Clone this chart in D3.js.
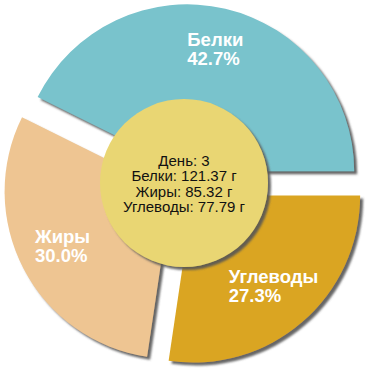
<!DOCTYPE html>
<html>
<head>
<meta charset="utf-8">
<script src="https://cdn.jsdelivr.net/npm/d3@7"></script>
<style>
  body { margin: 0; background: #fff; }
  svg { display: block; }
</style>
</head>
<body>
<div id="chart"></div>
<script>
// nutrient data, day 3
const names = ["Белки", "Углеводы", "Жиры"];
const grams = [121.37, 77.79, 85.32];
const colors = ["#79c3cc", "#daa520", "#eec592"];
const day = 3;
const centerLines = ["День: " + day, "Белки: 121.37 г", "Жиры: 85.32 г", "Углеводы: 77.79 г"];

const width = 370, height = 370;
const cx = 184, cy = 185;
const outerR = 167, innerR = 84;
const explode = 14;

const total = d3.sum(grams);
const fmt = d3.format(".1f");

const svg = d3.select("#chart").append("svg")
    .attr("width", width)
    .attr("height", height);

const defs = svg.append("defs");
const shadow = defs.append("filter")
    .attr("id", "shadow")
    .attr("x", "-10%").attr("y", "-10%")
    .attr("width", "130%").attr("height", "130%");
shadow.append("feDropShadow")
    .attr("dx", 3).attr("dy", 3)
    .attr("stdDeviation", 0.8)
    .attr("flood-color", "#555")
    .attr("flood-opacity", 0.9);

// protein slice ends at 3 o'clock
const startAngle = Math.PI / 2 - 2 * Math.PI * grams[0] / total;
const pie = d3.pie()
    .sort(null)
    .value(d => d)
    .startAngle(startAngle)
    .endAngle(startAngle + 2 * Math.PI);

const arcs = pie(grams);
const arc = d3.arc().innerRadius(0).outerRadius(outerR);

const g = svg.append("g").attr("transform", `translate(${cx},${cy})`);

function shift(d, r) {
    const a = (d.startAngle + d.endAngle) / 2;
    return [Math.sin(a) * r, -Math.cos(a) * r];
}

const slices = g.selectAll(".slice")
    .data(arcs)
    .enter().append("g")
    .attr("class", "slice")
    .attr("transform", d => `translate(${shift(d, explode)})`);

slices.append("path")
    .attr("d", arc)
    .attr("fill", (d, i) => colors[i])
    .attr("filter", "url(#shadow)");

// labels, left aligned block centred on a point along the bisector
const labelR = 123;
slices.each(function(d, i) {
    const [lx, ly] = shift(d, labelR);
    const lines = [names[i], fmt(grams[i] / total * 100) + "%"];
    const ts = d3.select(this).selectAll(".lbl")
        .data(lines)
        .enter().append("text")
        .attr("class", "lbl")
        .attr("fill", "#fff")
        .style("font-family", "'Liberation Sans', Arial, sans-serif")
        .style("font-weight", "bold")
        .style("font-size", "18.5px")
        .attr("y", (s, k) => ly + 4 + (k - 0.5) * 18.5)
        .text(s => s);
    const w = d3.max(ts.nodes(), n => n.getComputedTextLength());
    ts.attr("x", lx - w / 2);
});

// center disc
g.append("circle")
    .attr("cx", 0).attr("cy", -2)
    .attr("r", innerR)
    .attr("fill", "#e9d673")
    .attr("filter", "url(#shadow)");

g.selectAll(".center-text")
    .data(centerLines)
    .enter().append("text")
    .attr("class", "center-text")
    .attr("text-anchor", "middle")
    .attr("fill", "#111")
    .style("font-family", "'Liberation Sans', Arial, sans-serif")
    .style("font-size", "15px")
    .attr("x", 0)
    .attr("y", (s, k) => -19 + k * 15.3)
    .text(s => s);
</script>
</body>
</html>
